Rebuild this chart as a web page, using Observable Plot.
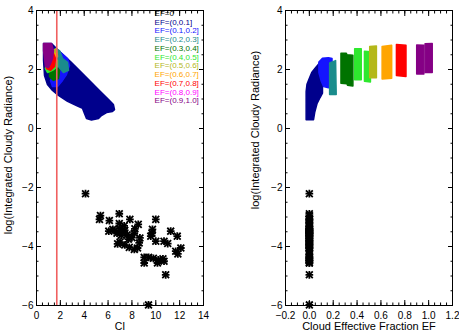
<!DOCTYPE html>
<html>
<head>
<meta charset="utf-8">
<script src="https://cdn.jsdelivr.net/npm/d3@7"></script>
<script src="https://cdn.jsdelivr.net/npm/@observablehq/plot@0.6"></script>
<style>
  body { margin: 0; background: #fff; }
  #fig { display: flex; width: 459px; height: 336px; background: #fff; }
  #fig svg { display: block; }
</style>
</head>
<body>
<div id="fig"></div>
<script>
// Effective-fraction bins and their colours
const binLabels = ["EF=0", "EF=(0,0.1]", "EF=(0.1,0.2]", "EF=(0.2,0.3]", "EF=(0.3,0.4]", "EF=(0.4,0.5]",
                   "EF=(0.5,0.6]", "EF=(0.6,0.7]", "EF=(0.7,0.8]", "EF=(0.8,0.9]", "EF=(0.9,1.0]"];
const binColors = ["#000000", "#00008c", "#1414ff", "#1a8c8c", "#007300", "#2ee82e",
                   "#b4b81a", "#ffa500", "#ff0000", "#ff00ff", "#850085"];

// Clear-sky scenes (EF = 0): [CI, log radiance]
const clearScenes = [
  [4.11, -2.21], [5.36, -2.95], [5.28, -3.08], [6.11, -3.12], [6.94, -2.89],
  [6.06, -3.48], [6.53, -3.46], [6.94, -3.22], [6.4, -3.42], [6.75, -3.55],
  [7.0, -3.4], [7.2, -3.52], [7.4, -3.45], [7.1, -3.62], [7.6, -3.6], [7.35, -3.3],
  [7.83, -3.08], [8.53, -3.25], [8.25, -3.4], [8.2, -3.55], [8.0, -3.7], [7.7, -3.75],
  [8.67, -3.71], [8.61, -3.88], [8.47, -4.05], [8.2, -4.1], [7.78, -4.03], [7.4, -3.95],
  [6.8, -3.91], [7.0, -3.85], [10.0, -3.08], [9.72, -3.42], [9.58, -3.65], [9.68, -3.55],
  [10.0, -3.82], [10.69, -3.82], [11.0, -3.9], [11.25, -3.48], [11.8, -3.65], [11.67, -4.16],
  [12.1, -4.05], [11.85, -4.25], [9.03, -4.37], [9.03, -4.56], [9.4, -4.37], [9.8, -4.4],
  [10.2, -4.45], [10.6, -4.42], [10.69, -4.5], [10.14, -4.56], [10.83, -4.96], [9.39, -5.98]
];

// Outlines of the cloudy-scene point clouds in (CI, log radiance), one list per bin
const ciRegions = [
  [],
  [[[0.59, 2.88], [1.26, 2.88], [1.84, 2.64], [2.85, 2.27], [4.11, 1.76], [5.36, 1.25], [6.04, 0.98],
    [6.45, 0.81], [6.54, 0.64], [6.37, 0.58], [5.87, 0.54], [5.45, 0.44], [5.2, 0.34], [4.61, 0.29],
    [4.19, 0.34], [4.02, 0.51], [3.86, 0.68], [3.35, 0.78], [2.6, 0.92], [1.84, 1.12], [1.34, 1.29],
    [0.92, 1.49], [0.67, 1.8], [0.59, 2.31]]],
  [[[1.59, 2.71], [2.01, 2.58], [2.6, 2.37], [2.77, 2.14], [2.51, 1.83], [2.18, 1.63], [1.76, 1.42],
    [1.34, 1.42], [1.17, 1.63], [1.51, 1.97], [1.59, 2.37]]],
  [[[1.59, 2.71], [1.93, 2.64], [2.18, 2.37], [2.6, 2.24], [2.68, 1.97], [2.26, 1.9], [1.84, 2.1], [1.59, 2.37]]],
  [[[1.09, 1.97], [1.68, 2.1], [1.93, 1.97], [1.84, 1.69], [1.42, 1.63], [1.09, 1.76]]],
  [[[0.84, 2.24], [1.34, 2.37], [1.76, 2.31], [1.76, 2.1], [1.34, 1.97], [0.92, 1.9], [0.75, 2.03]]],
  [[[1.34, 2.64], [1.68, 2.71], [1.76, 2.44], [1.42, 2.31], [1.26, 2.44]]],
  [[[1.17, 2.47], [1.59, 2.54], [1.68, 2.31], [1.34, 2.2], [1.09, 2.31]]],
  [[[1.01, 2.47], [1.42, 2.54], [1.59, 2.37], [1.51, 2.1], [1.17, 1.97], [0.84, 2.03], [0.84, 2.31]]],
  [],
  [[[0.59, 2.88], [1.26, 2.88], [1.42, 2.64], [1.34, 2.37], [1.17, 2.2], [1.01, 2.07], [0.75, 2.1],
    [0.67, 2.37], [0.59, 2.64]]]
];

// Outlines of the same clouds in (EF, log radiance)
const efRegions = [
  [],
  [[[-0.027, 0.3], [0.035, 0.3], [0.045, 0.55], [0.065, 0.85], [0.09, 1.05], [0.11, 1.2], [0.11, 2.15],
    [0.08, 2.2], [0.05, 2.05], [0.02, 1.9], [0.0, 1.7], [-0.02, 1.5], [-0.027, 1.25]]],
  [[[0.08, 2.25], [0.11, 2.38], [0.16, 2.4], [0.19, 2.37], [0.19, 1.5], [0.16, 1.38], [0.12, 1.42],
    [0.1, 1.6], [0.08, 1.9]]],
  [[[0.17, 2.22], [0.22, 2.3], [0.225, 1.15], [0.17, 1.15]]],
  [[[0.265, 2.55], [0.31, 2.55], [0.315, 2.5], [0.365, 2.48], [0.365, 1.44], [0.32, 1.47], [0.315, 1.52], [0.265, 1.53]]],
  [[[0.38, 2.7], [0.435, 2.7], [0.435, 1.65], [0.38, 1.65]],
   [[0.462, 2.62], [0.512, 2.6], [0.512, 1.58], [0.462, 1.6]]],
  [[[0.506, 2.78], [0.562, 2.8], [0.562, 1.72], [0.506, 1.72]]],
  [[[0.61, 2.78], [0.69, 2.82], [0.69, 1.7], [0.61, 1.68]]],
  [[[0.73, 2.85], [0.81, 2.82], [0.81, 1.76], [0.73, 1.8]]],
  [],
  [[[0.9, 2.83], [0.96, 2.82], [0.96, 1.85], [0.9, 1.85]],
   [[0.97, 2.87], [1.03, 2.88], [1.03, 1.9], [0.97, 1.9]]]
];

const ciThreshold = 1.7;
const ciTicks = [0, 2, 4, 6, 8, 10, 12, 14];
const efTicks = [-0.2, 0.0, 0.2, 0.4, 0.6, 0.8, 1.0, 1.2];
const radTicks = [-6, -4, -2, 0, 2, 4];
const yTitle = "log(Integrated Cloudy Radiance)";

const font = "'Liberation Sans', Arial, Helvetica, sans-serif";
const color = {domain: binLabels, range: binColors};

function regionRows(regions) {
  return regions.flatMap((polys, i) =>
    polys.flatMap((poly, j) => poly.map(([x, y]) => ({bin: binLabels[i], part: `${i}-${j}`, x, y}))));
}

function regionMark(regions) {
  return Plot.line(regionRows(regions), {
    x: "x", y: "y", z: "part", fill: "bin", stroke: "bin",
    strokeWidth: 1.5, strokeLinejoin: "round", curve: "linear-closed"
  });
}

// IDL-style asterisk: a plus overlaid with a cross
function starMarks(rows) {
  return [
    Plot.dot(rows, {x: "x", y: "y", symbol: "plus", r: 2.6, stroke: "black", strokeWidth: 1.8}),
    Plot.dot(rows, {x: "x", y: "y", symbol: "times", r: 3.2, stroke: "black", strokeWidth: 1.8})
  ];
}

function frameAxes(xMajor, xMinor, yMinor, xFormat) {
  const marks = [];
  for (const anchor of ["bottom", "top"]) {
    marks.push(Plot.axisX({anchor, ticks: xMajor, tickSize: -5, fill: "none", label: null}));
    marks.push(Plot.axisX({anchor, ticks: xMinor, tickSize: -2.5, fill: "none", label: null}));
  }
  for (const anchor of ["left", "right"]) {
    marks.push(Plot.axisY({anchor, ticks: radTicks, tickSize: -5, fill: "none", label: null}));
    marks.push(Plot.axisY({anchor, ticks: yMinor, tickSize: -2.5, fill: "none", label: null}));
  }
  marks.push(Plot.axisX({anchor: "bottom", ticks: xMajor, tickSize: 0, tickPadding: 6,
    tickFormat: xFormat, label: null, fontSize: 10}));
  marks.push(Plot.axisY({anchor: "left", ticks: radTicks, tickSize: 0, tickPadding: 3,
    tickFormat: d3.format("d"), label: null, fontSize: 10}));
  return marks;
}

// Widen a rotated axis title along its baseline, keeping it centred on its anchor
function stretchTitle(svg, length) {
  const t = svg.querySelector('g[aria-label="y-title"] text');
  if (!t) return;
  const natural = t.getComputedTextLength();
  if (natural > 0) t.setAttribute("transform", `${t.getAttribute("transform") || ""} scale(${length / natural},1)`);
}

const radMinor = d3.range(-6, 4.001, 0.5);

// Left panel: radiance against CI
const left = Plot.plot({
  width: 230, height: 336,
  marginTop: 10, marginBottom: 31, marginLeft: 36, marginRight: 27,
  style: {fontFamily: font, color: "black", background: "white", overflow: "visible"},
  x: {domain: [0, 14]},
  y: {domain: [-6, 4]},
  color,
  marks: [
    regionMark(ciRegions),
    ...starMarks(clearScenes.map(([x, y]) => ({x, y}))),
    Plot.ruleX([ciThreshold], {stroke: "#f06060", strokeWidth: 1.6}),
    Plot.frame({stroke: "black"}),
    ...frameAxes(ciTicks, d3.range(0, 14.001, 0.5), radMinor, d3.format("d")),
    Plot.text(binLabels, {x: 9.9, y: (d, i) => 3.9 - 0.296 * i, fill: d => d,
      textAnchor: "start", fontSize: 8}),
    Plot.text(["CI"], {frameAnchor: "bottom", dy: 24, fontSize: 10.5}),
    Plot.text([yTitle], {frameAnchor: "left", textAnchor: "middle", rotate: -90, dx: -28, dy: -3,
      fontSize: 11, ariaLabel: "y-title"})
  ]
});

// Right panel: radiance against cloud effective fraction
const right = Plot.plot({
  width: 229, height: 336,
  marginTop: 10, marginBottom: 31, marginLeft: 55, marginRight: 7,
  style: {fontFamily: font, color: "black", background: "white", overflow: "visible"},
  x: {domain: [-0.2, 1.2]},
  y: {domain: [-6, 4]},
  color,
  marks: [
    regionMark(efRegions),
    ...starMarks(clearScenes.map(([, y]) => ({x: 0, y}))),
    Plot.frame({stroke: "black"}),
    ...frameAxes(efTicks, d3.range(-0.2, 1.2001, 0.05), radMinor, d3.format(".1f")),
    Plot.text(["Cloud Effective Fraction EF"], {frameAnchor: "bottom", dy: 24, fontSize: 11}),
    Plot.text([yTitle], {frameAnchor: "left", textAnchor: "middle", rotate: -90, dx: -30, dy: -28,
      fontSize: 11, ariaLabel: "y-title"})
  ]
});

document.getElementById("fig").append(left, right);
stretchTitle(left, 244);
stretchTitle(right, 222);
</script>
</body>
</html>
